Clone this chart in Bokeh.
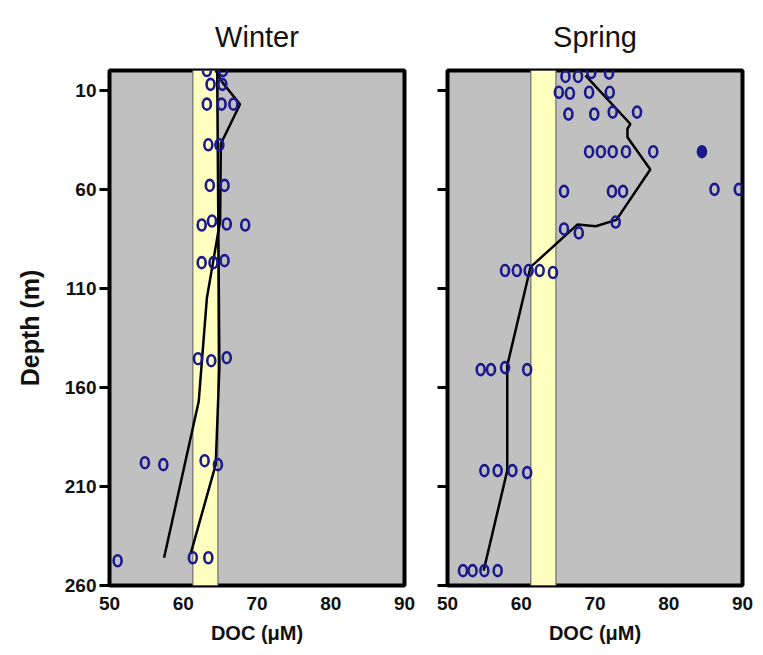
from bokeh.plotting import figure
from bokeh.layouts import row
from bokeh.models import Range1d, FixedTicker
from bokeh.embed import file_html
from bokeh.resources import INLINE

# ---------------- data ----------------
x_ticks = [50, 60, 70, 80, 90]
depth_ticks = [10, 60, 110, 160, 210, 260]
band_lo, band_hi = 61.3, 64.7

# Winter observations (DOC µM, depth m)
winter_doc = [63.2, 65.4,
              63.7, 65.3,
              63.2, 65.2, 66.8,
              63.4, 64.9,
              63.6, 65.6,
              62.5, 63.9, 65.9, 68.4,
              62.5, 64.1, 65.6,
              62.0, 63.8, 65.9,
              54.8, 57.3, 62.9, 64.7,
              51.1, 61.3, 63.4]
winter_depth = [0, 0,
                7, 7,
                17, 17, 17,
                37.5, 37.5,
                58, 58,
                78, 76, 77.5, 78,
                97, 97, 96,
                145.5, 146.5, 145,
                198, 199, 197, 199,
                247.5, 246, 246]
winter_lineA_doc = [64.4, 65.3, 67.7, 65.1, 65.0, 63.2, 62.1, 57.4]
winter_lineA_depth = [0, 6, 17, 37, 76, 115, 167, 246]
winter_lineB_doc = [64.6, 64.9, 64.4, 61.0]
winter_lineB_depth = [0, 150, 199, 244]

# Spring observations
spring_doc = [66.0, 67.7, 69.5, 71.9,
              65.1, 66.6, 69.2, 72.0,
              66.4, 69.9, 72.4, 75.7,
              69.2, 70.8, 72.4, 74.2, 77.9,
              65.8, 72.3, 73.8, 86.2, 89.5,
              65.8, 67.8, 72.8,
              57.8, 59.4, 61.0, 62.5, 64.3,
              54.5, 55.9, 57.8, 60.8,
              55.0, 56.8, 58.8, 60.8,
              52.1, 53.4, 55.0, 56.8]
spring_depth = [3, 3, 1, 1.3,
                11, 11.5, 11, 11,
                22, 22, 21, 21,
                41, 41, 41, 41, 41,
                61, 61, 61, 60, 60,
                80, 82, 76.5,
                101, 101, 101, 101, 102,
                151, 151, 150, 151,
                202, 202, 202, 203,
                252.5, 252.5, 252.5, 252.5]
spring_filled_doc = [84.5]
spring_filled_depth = [41]
spring_line_doc = [68.7, 74.8, 74.4, 74.4, 77.5, 72.9, 70.1, 67.6, 61.25, 58.1, 58.1, 54.9]
spring_line_depth = [2.5, 27, 29.4, 33.7, 50, 75.4, 78.6, 77.8, 99.3, 149, 202, 252.5]

# ---------------- styling helpers ----------------
GRAY = "#c0c0c0"
YELLOW = "#ffffc0"
NAVY = "#1a1a8e"
FONT = "Liberation Sans"
FRAME_W, FRAME_H = 295, 515
TOP, BOTTOM = 70, 62


def make_panel(title, width, border_left, border_right, show_ylabels):
    p = figure(width=width, height=TOP + FRAME_H + BOTTOM,
               x_range=Range1d(50, 90), y_range=Range1d(260, 0),
               output_backend="svg", toolbar_location=None,
               min_border_left=border_left, min_border_right=border_right,
               min_border_top=TOP, min_border_bottom=BOTTOM)
    p.background_fill_color = GRAY
    p.border_fill_color = "white"
    p.grid.visible = False
    p.outline_line_color = "black"
    p.outline_line_width = 4

    p.title.text = title
    p.title.align = "center"
    p.title.offset = -8
    p.title.vertical_align = "top"
    p.title.standoff = 32
    p.title.text_color = "#111111"
    p.title.text_font = FONT
    p.title.text_font_style = "normal"
    p.title.text_font_size = "29px"

    xa = p.below[0]
    xa.ticker = FixedTicker(ticks=x_ticks)
    xa.axis_line_color = None
    xa.major_tick_out = 0
    xa.major_tick_in = 0
    xa.minor_tick_out = 0
    xa.minor_tick_in = 0
    xa.major_label_text_color = "#111111"
    xa.major_label_text_font = FONT
    xa.major_label_text_font_style = "bold"
    xa.major_label_text_font_size = "19px"
    xa.major_label_standoff = 11
    xa.axis_label = "DOC (μM)"
    xa.axis_label_text_color = "#111111"
    xa.axis_label_text_font = FONT
    xa.axis_label_text_font_style = "bold"
    xa.axis_label_text_font_size = "20px"
    xa.axis_label_standoff = 9

    ya = p.left[0]
    ya.ticker = FixedTicker(ticks=depth_ticks)
    ya.axis_line_color = None
    ya.major_tick_out = 10
    ya.major_tick_in = 0
    ya.major_tick_line_width = 3
    ya.major_tick_line_color = "black"
    ya.minor_tick_out = 0
    ya.minor_tick_in = 0
    if show_ylabels:
        ya.major_label_text_color = "#111111"
        ya.major_label_text_font = FONT
        ya.major_label_text_font_style = "bold"
        ya.major_label_text_font_size = "19px"
        ya.major_label_standoff = 3
        ya.axis_label = "Depth (m)"
        ya.axis_label_text_color = "#111111"
        ya.axis_label_text_font = FONT
        ya.axis_label_text_font_style = "bold"
        ya.axis_label_text_font_size = "25px"
        ya.axis_label_standoff = 18
    else:
        ya.major_label_overrides = {t: "" for t in depth_ticks}
        ya.major_label_standoff = 0

    # reference band
    p.quad(left=[band_lo], right=[band_hi], bottom=[260], top=[0],
           fill_color=YELLOW, line_color="#6e6e6e", line_width=1.2)
    return p


def add_points(p, xs, ys, fill=None):
    p.ellipse(x=xs, y=ys, width=8, height=11,
              width_units="screen", height_units="screen",
              fill_color=fill, line_color=NAVY, line_width=2.6)


# ---------------- Winter ----------------
p1 = make_panel("Winter", 109 + FRAME_W + 15, 109, 15, True)
p1.line(winter_lineA_doc, winter_lineA_depth, line_color="black", line_width=2.5)
p1.line(winter_lineB_doc, winter_lineB_depth, line_color="black", line_width=2.5)
add_points(p1, winter_doc, winter_depth)

# ---------------- Spring ----------------
p2 = make_panel("Spring", 28 + FRAME_W + 13, 28, 13, False)
p2.line(spring_line_doc, spring_line_depth, line_color="black", line_width=2.5)
add_points(p2, spring_doc, spring_depth)
add_points(p2, spring_filled_doc, spring_filled_depth, fill=NAVY)

layout = row(p1, p2)
open("out.html", "w").write(file_html(layout, INLINE))
